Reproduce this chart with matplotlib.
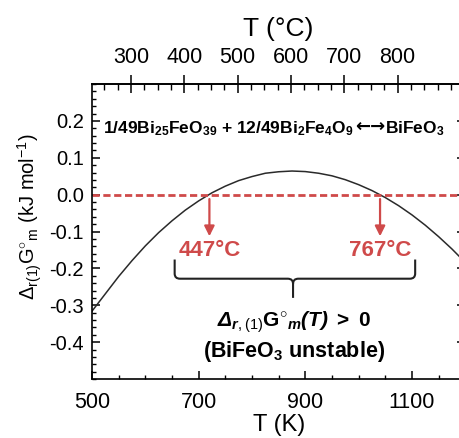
import matplotlib
matplotlib.use("Agg")
import matplotlib.pyplot as plt
from matplotlib.path import Path
from matplotlib.patches import PathPatch
from matplotlib.ticker import MultipleLocator, FixedLocator

plt.rcParams['font.family'] = ['Liberation Sans', 'DejaVu Sans']
plt.rcParams['mathtext.fontset'] = 'custom'
plt.rcParams['mathtext.rm'] = 'Liberation Sans'
plt.rcParams['mathtext.it'] = 'Liberation Sans:italic:bold'
plt.rcParams['mathtext.bf'] = 'Liberation Sans:bold'

# ---- data ----
T_K = [500, 525, 550, 575, 600, 625, 650, 675, 700, 725, 750, 775, 800, 825,
       850, 875, 900, 925, 950, 975, 1000, 1025, 1050, 1075, 1100, 1125,
       1150, 1175, 1200]
dG = [-0.316, -0.269, -0.222, -0.179, -0.139, -0.103, -0.071, -0.042,
      -0.017, 0.005, 0.023, 0.038, 0.049, 0.058, 0.062, 0.064, 0.0625,
      0.058, 0.051, 0.0405, 0.027, 0.011, -0.008, -0.030, -0.055, -0.083,
      -0.114, -0.1475, -0.184]
crossings_C = [447, 767]
crossing_labels = ['447°C', '767°C']
x_ticks_K = [500, 700, 900, 1100]
y_ticks = [-0.4, -0.3, -0.2, -0.1, 0.0, 0.1, 0.2]
top_ticks_C = [300, 400, 500, 600, 700, 800]

red = '#cf4a4a'

fig = plt.figure(figsize=(4.6, 4.38), dpi=100)
ax = fig.add_axes([92/460, 59/438, 373.3/460, 295/438])

ax.plot(T_K, dG, color='#2a2a2a', lw=1.1)
ax.axhline(0.0, color=red, lw=2.0, dashes=(2.6, 1.3))

ax.set_xlim(500, 1200)
ax.set_ylim(-0.5, 0.3)
ax.xaxis.set_major_locator(FixedLocator(x_ticks_K))
ax.xaxis.set_minor_locator(MultipleLocator(50))
ax.yaxis.set_major_locator(FixedLocator(y_ticks))
ax.yaxis.set_minor_locator(MultipleLocator(0.02))
ax.set_yticklabels(['%.1f' % v for v in y_ticks])
ax.tick_params(axis='both', which='major', direction='in', length=6, width=1.1)
ax.tick_params(axis='both', which='minor', direction='in', length=3, width=1.0)
ax.tick_params(axis='x', which='both', top=False)
ax.tick_params(axis='y', which='both', right=True)
ax.tick_params(axis='x', labelsize=15.5, pad=9)
ax.tick_params(axis='y', labelsize=14.5, pad=6)
for s in ax.spines.values():
    s.set_linewidth(1.2)

ax.set_xlabel('T (K)', fontsize=17, labelpad=1)
ax.set_ylabel(r'$\mathrm{\Delta_{r(1)}G^{\circ}{}_{m}}$ (kJ mol$^{\mathrm{-1}}$)', fontsize=14.5)
ax.yaxis.set_label_coords(-0.128, 0.549)

sec = ax.secondary_xaxis('top', functions=(lambda k: k - 273.15, lambda c: c + 273.15))
sec.xaxis.set_major_locator(FixedLocator(top_ticks_C))
sec.xaxis.set_minor_locator(MultipleLocator(25))
sec.tick_params(which='major', direction='inout', length=13, width=1.1, labelsize=15.5, pad=5)
sec.tick_params(which='minor', direction='in', length=4, width=1.0)
sec.set_xlabel('T (°C)', fontsize=19, labelpad=8)
sec.spines['top'].set_linewidth(1.2)

# reaction (three pieces chained left to right)
t1 = ax.text(0.030, 0.848,
             r'1/49Bi$_{\mathbf{25}}$FeO$_{\mathbf{39}}$ + 12/49Bi$_{\mathbf{2}}$Fe$_{\mathbf{4}}$O$_{\mathbf{9}}$ ',
             transform=ax.transAxes, ha='left', va='center', fontsize=12.5,
             fontweight='bold')
t2 = ax.annotate('\u2190\u2192', xy=(1.0, 0.62), xycoords=t1, ha='left', va='center',
                 fontsize=13, fontweight='bold', family='DejaVu Sans')
t3 = ax.annotate(r'BiFeO$_{\mathbf{3}}$', xy=(1.0, 0.38), xycoords=t2, ha='left',
                 va='center', fontsize=12.5, fontweight='bold')

# arrows and crossing labels
for c, lab in zip(crossings_C, crossing_labels):
    xk = c + 273.15
    ax.annotate('', xy=(xk, -0.113), xytext=(xk, -0.012),
                arrowprops=dict(arrowstyle='-|>,head_length=0.6,head_width=0.3',
                                color=red, lw=1.6, shrinkA=0, shrinkB=0))
    ax.text(xk, -0.151, lab, color=red, ha='center', va='center',
            fontsize=16, fontweight='bold')

# curly brace
x0, x1, xc = 655, 1106, 877
ytop, ymid, ybot = -0.176, -0.228, -0.280
rx, ry = 10, 0.014
verts = [(x0, ytop), (x0, ymid + ry), (x0, ymid), (x0 + rx, ymid),
         (xc - rx, ymid), (xc, ymid), (xc, ymid - ry), (xc, ybot),
         (xc, ymid - ry), (xc, ymid), (xc + rx, ymid),
         (x1 - rx, ymid), (x1, ymid), (x1, ymid + ry), (x1, ytop)]
codes = [Path.MOVETO, Path.LINETO, Path.CURVE3, Path.CURVE3,
         Path.LINETO, Path.CURVE3, Path.CURVE3, Path.LINETO,
         Path.MOVETO, Path.CURVE3, Path.CURVE3,
         Path.LINETO, Path.CURVE3, Path.CURVE3, Path.LINETO]
ax.add_patch(PathPatch(Path(verts, codes), fill=False, lw=1.5, ec='#222222'))

ax.text(0.541, 0.193, r'Δ$_{r,(1)}$$\mathbf{G}^{\mathbf{\circ}}{}_{m}$(T) $\mathbf{>\ 0}$',
        transform=ax.transAxes, ha='center', va='center', fontsize=15,
        fontweight='bold', fontstyle='italic')
ax.text(0.541, 0.092, r'(BiFeO$_{\mathbf{3}}$ unstable)', transform=ax.transAxes,
        ha='center', va='center', fontsize=15.5, fontweight='bold')

fig.savefig('out.png', dpi=100)
